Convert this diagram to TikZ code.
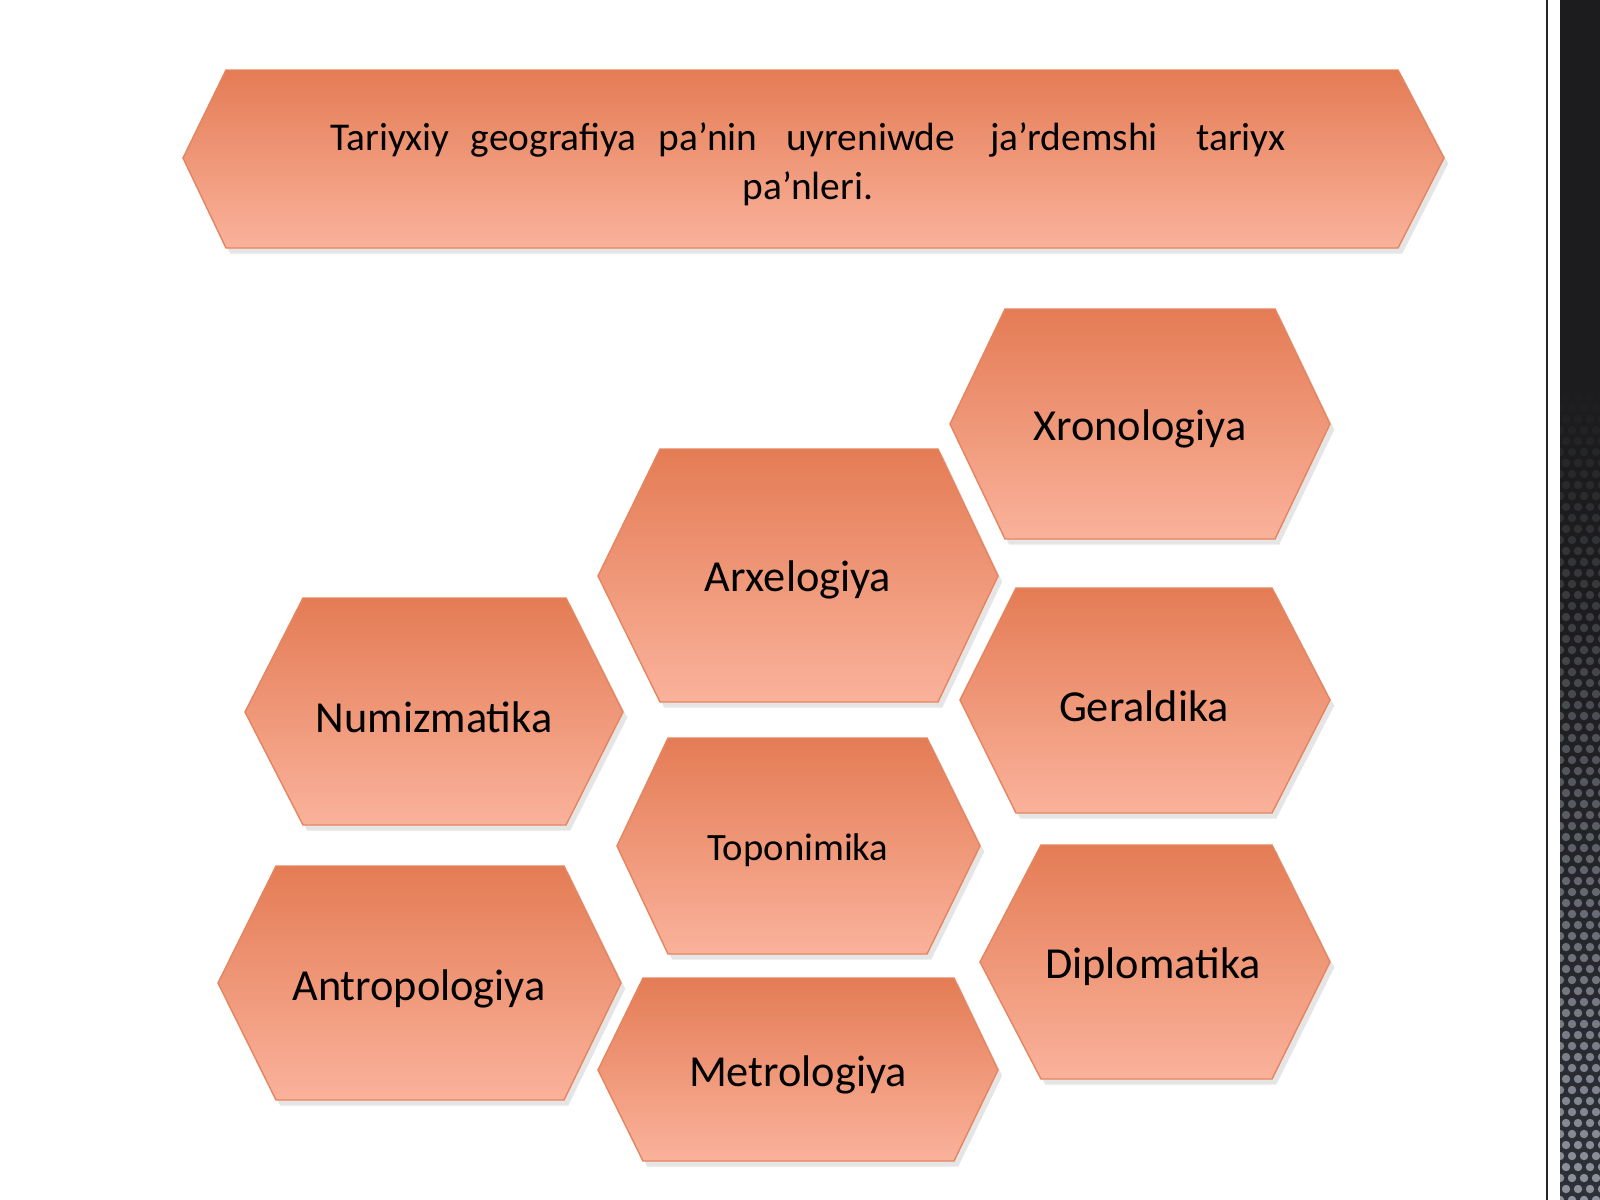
\documentclass[tikz,border=0pt]{standalone}
\usepackage{fontspec}
\setmainfont{Carlito}
\usetikzlibrary{shadows}
\definecolor{hextop}{HTML}{E47C55}
\definecolor{hexbot}{HTML}{FAB29B}
\definecolor{hexedge}{HTML}{E58560}
\definecolor{banddark}{HTML}{1C1C1E}
\definecolor{bandlow}{HTML}{2E3038}
\definecolor{dotcol}{HTML}{A8ACB8}
\tikzset{
  hexshape/.style={top color=hextop, bottom color=hexbot, draw=hexedge, line width=0.4pt,
    drop shadow={shadow xshift=1.2pt, shadow yshift=-1.6pt, opacity=0.14, fill=black!70}},
  hexlabel/.style={font=\fontsize{12.6}{15}\selectfont, text=black, inner sep=0pt},
  smalllabel/.style={font=\fontsize{11}{13}\selectfont, text=black, inner sep=0pt},
  titlelabel/.style={font=\fontsize{11.2}{13.9}\selectfont, text=black, inner sep=0pt, align=center}
}
\newcommand{\hexa}[7]{%
  \path[hexshape] (#1,#7) -- (#2,#5) -- (#3,#5) -- (#4,#7) -- (#3,#6) -- (#2,#6) -- cycle;}
\begin{document}
\begin{tikzpicture}[x=0.01cm,y=-0.01cm]
\useasboundingbox (0,0) rectangle (1600,1200);
\fill[white] (0,0) rectangle (1600,1200);
% right decorative band
\draw[line width=0.7pt, black!85] (1547,0) -- (1547,1200);
\shade[top color=banddark, bottom color=bandlow, middle color=banddark] (1560,0) rectangle (1600,1200);
\begin{scope}
\clip (1560,0) rectangle (1600,1200);
\foreach \r in {0,...,80} {
  \pgfmathsetmacro{\yy}{320+\r*11}
  \pgfmathsetmacro{\op}{min(0.8,max(0,(\yy-380)/820*0.8))}
  \pgfmathsetmacro{\off}{mod(\r,2)*6}
  \foreach \c in {0,...,3} {
    \fill[dotcol, opacity=\op] (1560+\off+\c*12,\yy) circle[radius=0.042cm];
  }
}
\end{scope}
% title banner
\hexa{183}{226}{1398}{1444}{70}{248}{158}
\node[titlelabel] (title) at (808,164) {Tariyxiy\hspace{6pt}geografiya\hspace{6.3pt}pa’nin\hspace{8.1pt}uyreniwde\hspace{10pt}ja’rdemshi\hspace{11pt}tariyx\\pa’nleri.};
% hexagons
\hexa{950}{1005}{1275}{1330}{309}{539}{424}
\node[hexlabel] (xron) at (1140,429) {Xronologiya};
\hexa{598}{660}{938}{998}{449}{702}{576}
\node[hexlabel] (arx) at (798,580) {Arxelogiya};
\hexa{245}{303}{566}{623}{598}{825}{712}
\node[hexlabel] (num) at (434,717) {Numizmatika};
\hexa{960}{1016}{1272}{1330}{588}{813}{700}
\node[hexlabel] (ger) at (1144,706) {Geraldika};
\hexa{617}{668}{927}{980}{738}{954}{846}
\node[smalllabel] (top) at (798,850) {Toponimika};
\hexa{218}{276}{564}{621}{866}{1100}{983}
\node[hexlabel] (ant) at (419,989) {Antropologiya};
\hexa{980}{1041}{1272}{1330}{845}{1079}{962}
\node[hexlabel] (dip) at (1153,967) {Diplomatika};
\hexa{598}{643}{954}{998}{978}{1161}{1070}
\node[hexlabel] (met) at (798,1075) {Metrologiya};
\end{tikzpicture}
\end{document}
